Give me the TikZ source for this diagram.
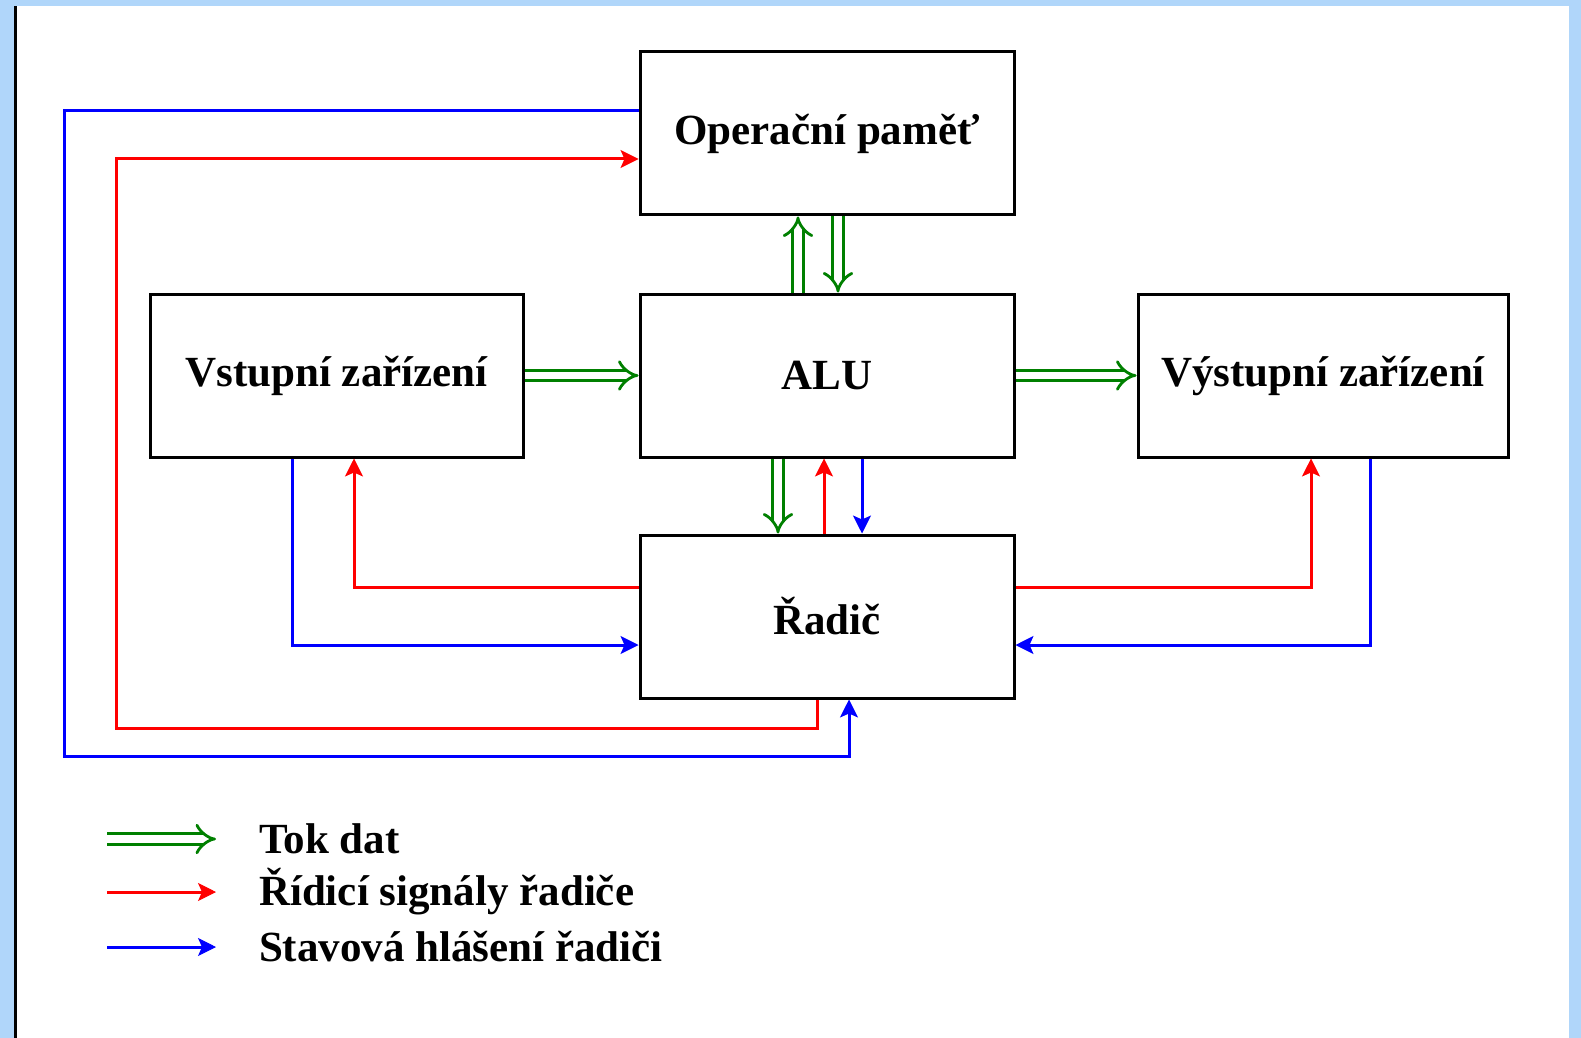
\documentclass[tikz,border=0pt]{standalone}
\usepackage{fontspec}
\setmainfont{Liberation Serif}
\usetikzlibrary{arrows.meta,positioning,calc}
\definecolor{bgblue}{RGB}{176,214,250}
\definecolor{datagreen}{RGB}{0,128,0}

\begin{document}
\begin{tikzpicture}[x=0.5pt,y=-0.5pt,>=Stealth,
  box/.style={draw,line width=1.5pt,minimum width=187pt,minimum height=81.5pt,
    font=\fontsize{21.5}{24}\selectfont\bfseries},
  data/.style={draw=datagreen,line width=1.4pt,double=white,double distance=3.8pt,-{Implies}},
  ctrl/.style={draw=red,line width=1.5pt,-{Stealth[length=9pt,width=9pt,inset=2pt,line width=0.5pt]}},
  stat/.style={ctrl,draw=blue},
  lbl/.style={anchor=west,font=\fontsize{21.5}{24}\selectfont\bfseries}]
  \useasboundingbox (0,0) rectangle (1581,1038);
  \fill[bgblue] (0,0) rectangle (1581,1038);
  \fill[white] (17,6) rectangle (1569,1038);
  \fill[black] (14,6) rectangle (17,1038);
  % bloky
  \node[box] (mem) at (827,133.5) {Operační paměť};
  \node[box] (alu) at (827,375.5) {ALU};
  \node[box,minimum width=186.5pt] (in) at (336.5,375.5) {Vstupní zařízení};
  \node[box,minimum width=185pt] (out) at (1323,375.5) {Výstupní zařízení};
  \node[box] (ctl) at (827,616.5) {Řadič};
  % tok dat
  \draw[data] (in.east) -- (alu.west);
  \draw[data] (alu.east) -- (out.west);
  \draw[data] (alu.north -| 798,0) -- (mem.south -| 798,0);
  \draw[data] (mem.south -| 838,0) -- (alu.north -| 838,0);
  \draw[data] (alu.south -| 778,0) -- (ctl.north -| 778,0);
  % ridici signaly
  \draw[ctrl] (ctl.north -| 824,0) -- (alu.south -| 824,0);
  \draw[ctrl] (ctl.west |- 0,587) -| (in.south -| 354,0);
  \draw[ctrl] (ctl.east |- 0,587) -| (out.south -| 1311,0);
  \draw[ctrl] (ctl.south -| 817,0) |- (116,728) |- (mem.west |- 0,159);
  % stavova hlaseni
  \draw[stat] (alu.south -| 862,0) -- (ctl.north -| 862,0);
  \draw[stat] (in.south -| 292,0) |- (ctl.west |- 0,645);
  \draw[stat] (out.south -| 1370,0) |- (ctl.east |- 0,645);
  \draw[stat] (mem.west |- 0,111) -| (64,756) -| (ctl.south -| 849,0);
  % legenda
  \foreach \y/\sty/\txt [count=\i] in {839/data/Tok dat,892/ctrl/Řídicí signály řadiče,947/stat/Stavová hlášení řadiči}{
    \coordinate (la\i) at (107,\y);
    \coordinate (lb\i) at (216,\y);
    \draw[\sty] (la\i) -- (lb\i);
    \node[lbl] (lt\i) at (252,\y) {\txt};
  }
\end{tikzpicture}
\end{document}
